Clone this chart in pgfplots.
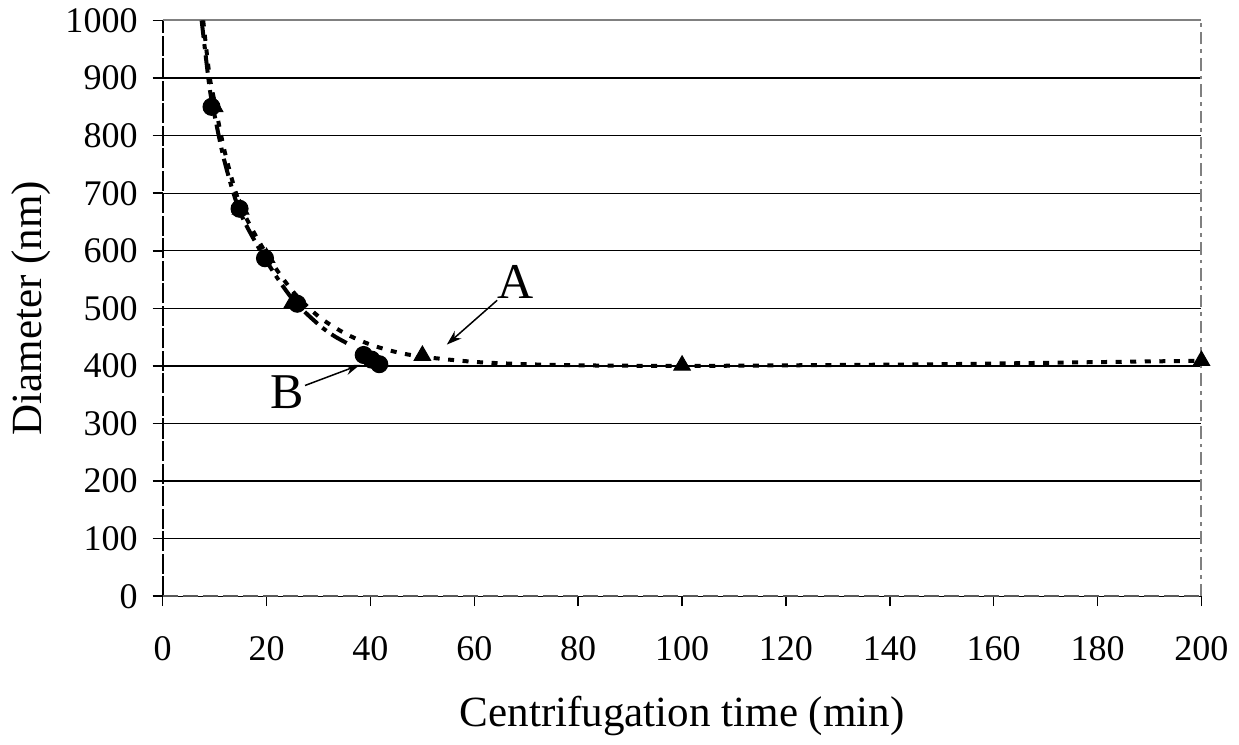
\documentclass[border=0pt]{standalone}
\usepackage{fontspec}
\setmainfont{Liberation Serif}
\usepackage{pgfplots}
\usetikzlibrary{arrows.meta}
\pgfplotsset{compat=1.18}
\begin{document}
\begin{tikzpicture}
\begin{axis}[
  scale only axis,
  width=415pt, height=230pt,
  xmin=0, xmax=200, ymin=0, ymax=1000,
  xtick={0,20,...,200}, ytick={0,100,...,1000},
  tick align=outside, xtick pos=left, ytick pos=left,
  major tick length=4pt,
  tick style={black, line width=0.6pt},
  ymajorgrids, grid style={black, line width=0.5pt},
  axis line style={draw=none},
  /pgf/number format/assume math mode=true,
  /pgf/number format/1000 sep={},
  ticklabel style={font=\fontsize{14.4}{16}\selectfont},
  xticklabel style={yshift=-8.5pt},
  yticklabel style={xshift=-2.5pt},
  xlabel={Centrifugation time (min)},
  ylabel={Diameter (nm)},
  label style={font=\fontsize{17.2}{20}\selectfont},
  xlabel style={yshift=-7.5pt},
  ylabel style={yshift=-1pt},
  clip=false,
]
\coordinate (ll) at (rel axis cs:0,0);
\coordinate (ur) at (rel axis cs:1,1);
% frame
\draw[black, line width=0.8pt, dash pattern=on 8pt off 1pt] (rel axis cs:0,0) -- (rel axis cs:0,1);
\draw[gray!70!black, line width=0.8pt, dash pattern=on 6pt off 2pt] (rel axis cs:0,0) -- (rel axis cs:1,0);
\draw[gray, line width=0.8pt, dash pattern=on 5pt off 2pt on 1.5pt off 2pt] (rel axis cs:1,0) -- (rel axis cs:1,1);
\draw[gray, line width=0.8pt] (rel axis cs:0,1) -- (rel axis cs:1,1);
% trend A (dotted)
\addplot[black, line width=1.6pt, dash pattern=on 2.4pt off 3.4pt, smooth, tension=0.5] coordinates {
 (7.8,1000) (9,905) (10,858) (12,770) (15,678) (20,594) (25,530) (30,486) (35,457) (40,437) (45,424) (50,416) (60,407) (70,403) (80,401) (100,400) (120,401) (150,403) (175,406) (200,409)
};
% trend B (dash-dot)
\addplot[black, line width=1.6pt, dash pattern=on 7pt off 2.5pt on 2pt off 2.5pt, smooth, tension=0.5] coordinates {
 (7.5,1000) (9,885) (10,835) (12,752) (15,665) (20,582) (25,516) (30,472) (33,452) (36,437)
};
% A triangles
\addplot[only marks, mark=triangle*, mark size=3.8pt, black] coordinates {
 (10,850) (15,672) (20,588) (25,510) (50,418) (100,401) (200,409)
};
% B circles
\addplot[only marks, mark=*, mark size=3.4pt, black] coordinates {
 (9.4,850) (14.8,673) (19.7,587) (25.9,508) (38.7,419) (40.2,411) (41.7,403)
};
% annotations
\node[font=\fontsize{20}{23}\selectfont] at (axis cs:68,546) {A};
\draw[-{Stealth[length=6pt,width=4pt]}, line width=0.6pt] (axis cs:64.4,514) -- (axis cs:54.7,437);
\node[font=\fontsize{20}{23}\selectfont] at (axis cs:23.9,354) {B};
\draw[-{Stealth[length=6pt,width=4pt]}, line width=0.6pt] (axis cs:27.4,366) -- (axis cs:38,402);
\end{axis}
\path ([shift={(-65pt,-58pt)}]ll) rectangle ([shift={(15pt,8pt)}]ur);
\end{tikzpicture}
\end{document}
